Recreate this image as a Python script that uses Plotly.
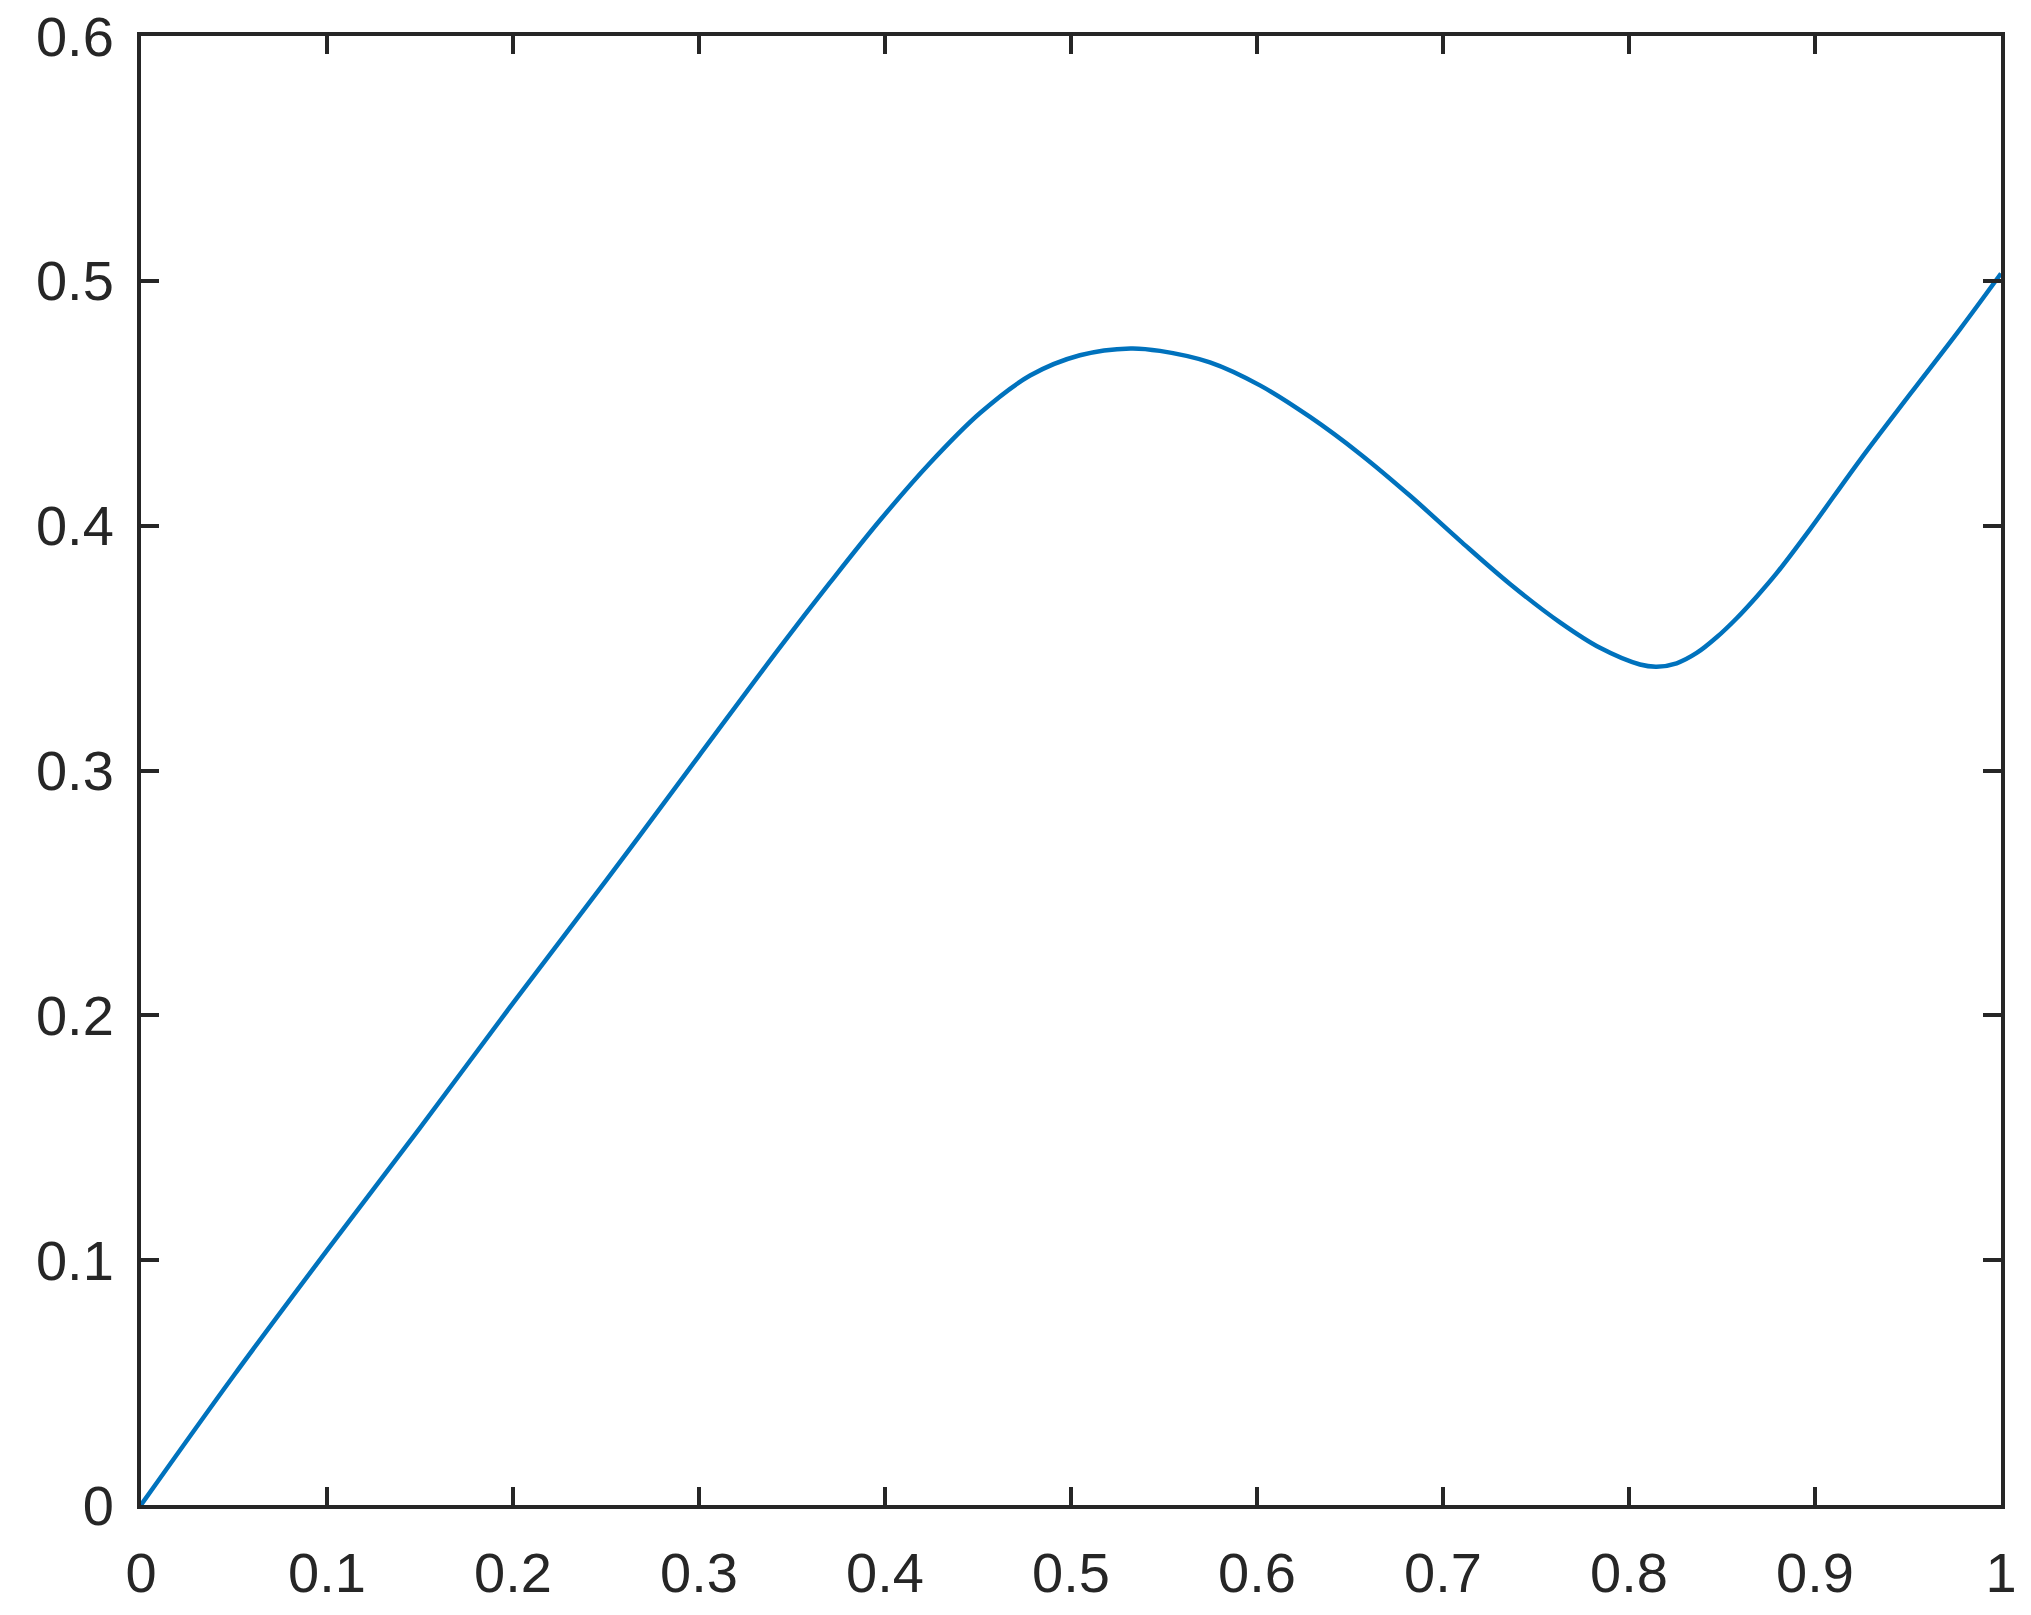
import plotly.graph_objects as go

# curve
x_vals = [0, 0.05, 0.1, 0.15, 0.2, 0.25, 0.3, 0.3435, 0.3704, 0.3973, 0.4242, 0.4511,
          0.478, 0.5048, 0.532, 0.5478, 0.5747, 0.6016, 0.6285, 0.6554, 0.6823,
          0.7091, 0.736, 0.7629, 0.7844, 0.8059, 0.8149, 0.8256, 0.8364, 0.8471,
          0.8579, 0.8686, 0.8794, 0.8973, 0.9242, 0.9511, 0.978, 1.0]
y_vals = [0, 0.053, 0.104, 0.154, 0.205, 0.255, 0.306, 0.3503, 0.3767, 0.4022, 0.4256,
          0.446, 0.4613, 0.4696, 0.4724, 0.4714, 0.4667, 0.4573, 0.4444, 0.4293,
          0.4122, 0.3939, 0.3762, 0.3605, 0.3501, 0.3433, 0.3424, 0.3438, 0.348,
          0.3544, 0.3622, 0.371, 0.3806, 0.3985, 0.4268, 0.4537, 0.4803, 0.503]

AX = '#262626'

fig = go.Figure()
fig.add_trace(go.Scatter(
    x=x_vals, y=y_vals, mode='lines',
    line=dict(color='#0072BD', width=4.5, shape='spline', smoothing=1.0),
    showlegend=False, hoverinfo='skip',
))

axis_style = dict(
    showgrid=False, zeroline=False, automargin=False,
    showline=True, linecolor=AX, linewidth=4, mirror='ticks',
    ticks='inside', ticklen=18, tickwidth=4, tickcolor=AX,
    ticklabeloverflow='allow',
    tickfont=dict(family='Liberation Sans, Arial, sans-serif', size=56, color=AX),
)

fig.update_xaxes(range=[0, 1], dtick=0.1, tick0=0, ticklabelstandoff=16, **axis_style)
fig.update_yaxes(range=[0, 0.6], dtick=0.1, tick0=0, ticklabelstandoff=12, **axis_style)

fig.update_layout(
    width=2031, height=1615,
    margin=dict(l=141, r=30, t=36, b=110),
    paper_bgcolor='white', plot_bgcolor='white',
)

# drop the default 8px body margin so the figure fills the window
fig.write_html("out.html", config={'displayModeBar': False},
               post_script="document.body.style.margin='0';")
